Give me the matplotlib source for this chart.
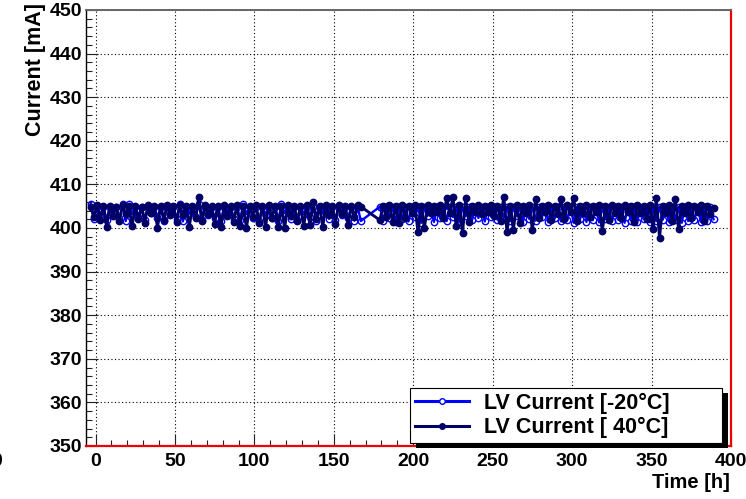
import numpy as np
import matplotlib
matplotlib.use("Agg")
import matplotlib.pyplot as plt
from matplotlib.lines import Line2D
from matplotlib.patches import Rectangle
from matplotlib.ticker import MultipleLocator

plt.rcParams['font.family'] = ['Liberation Sans', 'DejaVu Sans']
plt.rcParams['font.weight'] = 'bold'

# ---------------- data ----------------
time_part1 = np.arange(-3, 168, 2)      # hours, first run
time_part2 = np.arange(179, 390, 2)     # hours, second run

lv_cold_part1 = [  # LV Current [-20°C], mA
    405.5, 402.0, 404.9, 403.0, 404.8, 401.8, 404.9, 403.6, 404.8, 402.2,
    405.5, 401.6, 405.4, 403.2, 404.8, 402.6, 404.9, 401.9, 404.8, 403.4,
    404.9, 402.4, 404.8, 401.7, 404.9, 403.1, 404.9, 402.0, 405.5, 401.5,
    404.9, 403.3, 404.8, 402.5, 405.6, 401.8, 404.9, 403.0, 404.8, 402.3,
    404.9, 401.6, 404.8, 403.5, 404.9, 402.1, 404.8, 401.9, 405.4, 403.2,
    404.9, 402.4, 404.8, 401.5, 404.9, 403.0, 404.8, 402.2, 404.9, 401.7,
    405.4, 403.4, 404.9, 402.0, 404.8, 401.8, 404.9, 403.1, 404.8, 402.6,
    404.9, 401.5, 404.8, 403.3, 404.9, 402.1, 404.8, 401.9, 404.9, 403.0,
    404.8, 402.3, 404.9, 401.7, 404.8, 401.6,
]
lv_cold_part2 = [
    404.9, 401.6, 404.8, 402.4, 404.9, 401.3, 404.8, 402.0, 404.9, 401.5,
    404.8, 402.6, 404.9, 401.2, 404.8, 402.8, 404.9, 401.4, 404.8, 402.2,
    404.9, 401.6, 404.8, 402.5, 404.9, 401.3, 404.8, 402.7, 404.9, 401.8,
    404.8, 402.3, 404.9, 401.5, 404.8, 402.6, 404.9, 401.9, 404.8, 402.4,
    404.9, 401.6, 404.8, 402.8, 404.9, 401.4, 404.8, 402.1, 404.9, 401.7,
    404.8, 402.5, 404.9, 401.3, 404.8, 402.2, 404.9, 401.5, 404.8, 401.9,
    404.9, 401.2, 404.8, 402.0, 404.9, 401.4, 404.8, 401.8, 404.9, 401.3,
    404.8, 402.1, 404.9, 401.5, 404.8, 401.9, 404.9, 401.2, 404.8, 401.7,
    404.9, 401.4, 404.8, 402.0, 404.9, 401.3, 404.8, 401.6, 404.9, 401.9,
    404.8, 401.4, 404.9, 401.8, 404.8, 401.2, 404.9, 401.6, 404.8, 401.9,
    404.9, 401.4, 404.8, 401.7, 404.9, 402.0,
]

lv_warm_part1 = [  # LV Current [ 40°C], mA
    404.8, 402.5, 405.2, 401.8, 405.0, 400.2, 405.1, 402.8, 404.9, 401.5,
    405.2, 403.2, 405.0, 400.4, 405.1, 402.0, 404.9, 401.2, 405.2, 403.4,
    405.0, 400.1, 405.1, 401.9, 405.3, 402.9, 405.0, 401.3, 405.2, 403.0,
    405.1, 400.3, 405.0, 402.2, 407.2, 401.6, 405.2, 403.3, 405.0, 401.0,
    405.1, 400.2, 405.3, 402.7, 405.0, 401.4, 405.2, 400.5, 405.0, 400.0,
    405.1, 402.6, 405.2, 401.2, 405.0, 400.3, 405.3, 402.4, 405.1, 400.2,
    405.0, 399.9, 405.2, 402.8, 405.1, 401.5, 405.0, 400.4, 405.2, 400.6,
    405.9, 402.0, 405.1, 400.3, 405.2, 402.9, 405.0, 401.0, 405.3, 403.1,
    405.1, 400.8, 405.0, 402.6, 405.2, 404.9,
]
lv_warm_part2 = [
    401.8, 405.1, 402.6, 405.3, 401.4, 405.0, 401.2, 405.2, 402.4, 405.1,
    403.5, 405.3, 399.0, 405.0, 400.0, 405.2, 403.4, 405.1, 403.7, 405.2,
    402.2, 406.9, 403.5, 407.0, 400.5, 405.2, 398.9, 406.8, 401.4, 405.1,
    403.6, 405.3, 403.2, 405.0, 403.7, 405.2, 402.8, 405.1, 401.6, 407.2,
    399.0, 405.0, 399.6, 405.3, 401.2, 405.1, 403.4, 405.2, 399.5, 406.7,
    402.4, 405.1, 403.6, 405.3, 401.8, 405.0, 403.3, 406.6, 402.0, 405.2,
    403.7, 406.9, 401.5, 405.1, 403.4, 405.3, 402.6, 405.0, 403.6, 405.2,
    399.3, 405.1, 401.9, 405.3, 403.5, 405.0, 402.2, 405.2, 403.6, 405.1,
    401.3, 405.3, 403.4, 405.0, 402.0, 405.2, 399.8, 406.8, 397.8, 405.1,
    403.5, 405.3, 401.6, 406.6, 399.8, 405.1, 403.4, 405.2, 402.3, 405.0,
    403.6, 405.3, 401.7, 405.1, 403.2, 404.6,
]

series_labels = ["LV Current [-20\u00b0C]", "LV Current [ 40\u00b0C]"]
x_label = "Time [h]"
y_label = "Current [mA]"

# ---------------- figure ----------------
W, H = 746, 499
fig = plt.figure(figsize=(W / 100, H / 100), dpi=100)
ax = fig.add_axes([86 / W, 1 - 446 / H, (731 - 86) / W, (446 - 10) / H])

cold_color = "#0000ff"
warm_color = "#000066"

time_all = np.concatenate([time_part1, time_part2])
cold_all = np.concatenate([lv_cold_part1, lv_cold_part2])
warm_all = np.concatenate([lv_warm_part1, lv_warm_part2])

ax.plot(time_all, cold_all, color=cold_color, lw=1.7, marker='o', ms=4.6,
        mfc='none', mec=cold_color, mew=1.0, zorder=3)
ax.plot(time_all, warm_all, color=warm_color, lw=2.1, marker='o', ms=4.6,
        mfc=warm_color, mec=warm_color, zorder=4)

ax.set_xlim(-6, 400)
ax.set_ylim(350, 450)
ax.xaxis.set_major_locator(MultipleLocator(50))
ax.xaxis.set_minor_locator(MultipleLocator(10))
ax.yaxis.set_major_locator(MultipleLocator(10))
ax.yaxis.set_minor_locator(MultipleLocator(2))
ax.tick_params(which='both', direction='in', top=False, right=False,
               colors='#222222', labelcolor='black', labelsize=14)
ax.tick_params(which='major', length=8.5, width=0.8)
ax.tick_params(which='minor', length=4.3, width=0.8)
ax.tick_params(axis='x', pad=5)
ax.tick_params(axis='y', pad=3)

ax.grid(True, which='major', color='black', linestyle=(0, (1, 2.2)),
        linewidth=0.8, zorder=1)
ax.set_axisbelow(True)

ax.spines['left'].set_color('black')
ax.spines['left'].set_linewidth(1.0)
ax.spines['top'].set_color('#666666')
ax.spines['top'].set_linewidth(1.4)
ax.spines['right'].set_color('#ee0000')
ax.spines['right'].set_linewidth(1.6)
ax.spines['bottom'].set_color('#ee0000')
ax.spines['bottom'].set_linewidth(1.6)

# legend with hard shadow
handles = [
    Line2D([], [], color=cold_color, lw=2.2, marker='o', ms=4, mfc='white',
           mec=cold_color, mew=1.0),
    Line2D([], [], color=warm_color, lw=2.2, marker='o', ms=4, mfc=warm_color,
           mec=warm_color),
]
leg = ax.legend(handles, series_labels, loc='upper left',
                bbox_to_anchor=(410 / W, 1 - 443 / H, (722 - 410) / W, (443 - 388) / H),
                bbox_transform=fig.transFigure, mode='expand', borderaxespad=0,
                fancybox=False, edgecolor='black', framealpha=1, fontsize=15.5,
                handlelength=2.5, handletextpad=0.7, labelspacing=0.15,
                borderpad=0.22)
leg.get_frame().set_linewidth(0.8)
leg.set_zorder(10)
shadow = Rectangle((416 / W, 1 - 448 / H), (728 - 416) / W, (448 - 393) / H,
                   transform=fig.transFigure, facecolor='black', edgecolor='none',
                   zorder=9, clip_on=False)
ax.add_artist(shadow)

fig.text(730 / W, 1 - 482 / H, x_label, ha='right', va='center', fontsize=14.5)
fig.text(35 / W, 1 - 3 / H, y_label, rotation=90, ha='center', va='top',
         fontsize=15.5)
fig.text(-3 / W, 1 - 461 / H, "0", ha='center', va='center', fontsize=14)

fig.savefig("out.png", dpi=100)
